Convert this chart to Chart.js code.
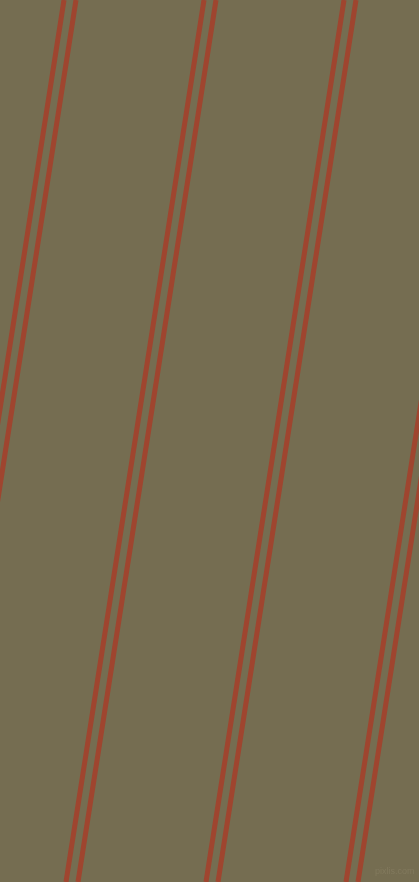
<html>
<head>
<script src="https://cdn.jsdelivr.net/npm/chart.js@4/dist/chart.umd.min.js"></script>
<style>
  body { margin: 0; background: #756d51; overflow: hidden; }
  #holder { position: relative; width: 419px; height: 882px; }
  #mark { position: absolute; left: 375px; top: 866px; font: 9px "Liberation Sans", sans-serif; color: rgba(140,132,104,0.55); white-space: nowrap; }
</style>
</head>
<body>
<div id="holder">
  <canvas id="myChart"></canvas>
  <div id="mark">pixlis.com</div>
</div>
<script>
  // where each stripe crosses the top edge and the bottom edge
  var topX    = [64, 76, 204, 216, 344, 356, 484, 496];
  var bottomX = [-74, -62, 66, 78, 206, 218, 346, 358];
  var yRange  = [0, 882];

  var sets = [];
  for (var i = 0; i < topX.length; i++) {
    sets.push({
      data: [{x: topX[i], y: yRange[0]}, {x: bottomX[i], y: yRange[1]}],
      showLine: true,
      borderColor: '#9f452f',
      borderWidth: 5,
      pointRadius: 0,
      fill: false
    });
  }

  var ctx = document.getElementById("myChart").getContext('2d');
  var myChart = new Chart(ctx, {
    type: 'scatter',
    data: { datasets: sets },
    options: {
      responsive: true,
      maintainAspectRatio: false,
      animation: false,
      layout: { padding: 0 },
      plugins: { legend: { display: false }, tooltip: { enabled: false } },
      scales: {
        x: { type: 'linear', min: 0, max: 419, display: false },
        y: { type: 'linear', min: yRange[0], max: yRange[1], reverse: true, display: false }
      }
    }
  });
</script>
</body>
</html>
